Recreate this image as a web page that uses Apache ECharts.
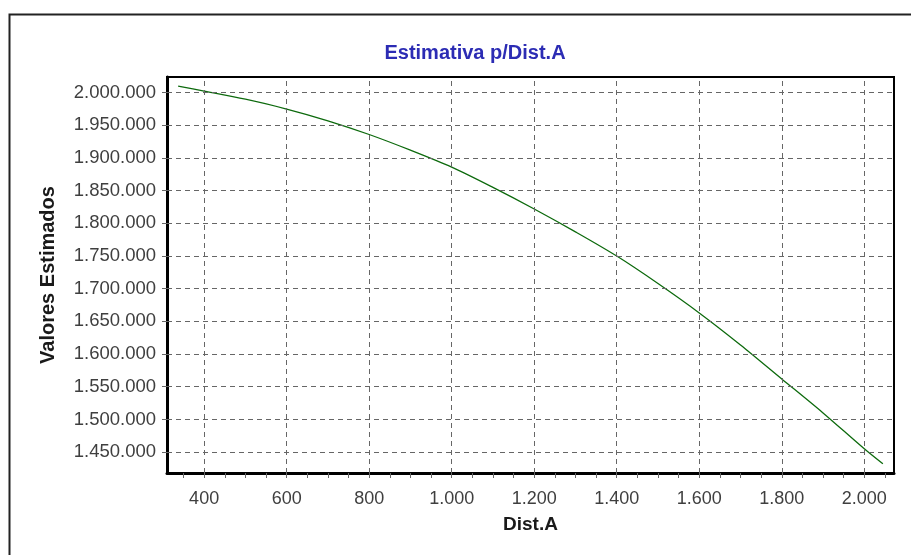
<!DOCTYPE html>
<html>
<head>
<meta charset="utf-8">
<script src="https://cdn.jsdelivr.net/npm/echarts@6/dist/echarts.min.js"></script>
<style>
  html, body { margin: 0; background: #fff; }
  #chart { width: 911px; height: 555px; }
</style>
</head>
<body>
<div id="chart"></div>
<script>
// estimated values
const distA = [337, 400, 500, 600, 700, 800, 900, 1000, 1100, 1200, 1300, 1400, 1500, 1600, 1700, 1800, 1900, 2000, 2045];
const valores = [2010000, 2002500, 1990000, 1975000, 1957000, 1936000, 1912000, 1886000, 1855000, 1822000, 1787000, 1750000, 1708000, 1663000, 1614000, 1562000, 1510000, 1455000, 1432000];

// tick labels
const xTicks = [400, 600, 800, 1000, 1200, 1400, 1600, 1800, 2000];
const xMinorTicks = [350, 400, 450, 500, 550, 600, 650, 700, 750, 800, 850, 900, 950, 1000, 1050, 1100, 1150, 1200, 1250, 1300, 1350, 1400, 1450, 1500, 1550, 1600, 1650, 1700, 1750, 1800, 1850, 1900, 1950, 2000, 2050];
const yTicks = [1450000, 1500000, 1550000, 1600000, 1650000, 1700000, 1750000, 1800000, 1850000, 1900000, 1950000, 2000000];

// 1.950.000 style
const fmt = v => String(Math.round(v)).replace(/\B(?=(\d{3})+(?!\d))/g, '.');

const chart = echarts.init(document.getElementById('chart'));

// dashed grid drawn as mark lines (axis min is not on the tick step)
const gridLines = yTicks.map(v => ({ yAxis: v })).concat(xTicks.map(v => ({ xAxis: v })));

const option = {
  backgroundColor: '#fff',
  animation: false,
  textStyle: { fontFamily: 'Liberation Sans' },
  title: {
    text: 'Estimativa p/Dist.A',
    left: 470,
    top: 38,
    textAlign: 'center',
    textStyle: { color: '#2c2cb4', fontSize: 20, fontWeight: 'bold', fontFamily: 'Liberation Sans' }
  },
  graphic: [
    {
      // outer frame, runs off right and bottom edges
      type: 'rect',
      left: 7, top: 12,
      shape: { width: 1000, height: 1000 },
      style: { fill: 'none', stroke: '#222', lineWidth: 2 },
      silent: true
    }
  ],
  grid: {
    left: 167, top: 77, right: 17, bottom: 82,
    show: true,
    backgroundColor: '#fff',
    borderColor: '#000',
    borderWidth: 2
  },
  xAxis: {
    type: 'value',
    min: 310,
    max: 2072,
    name: 'Dist.A',
    nameLocation: 'middle',
    nameGap: 42,
    nameTextStyle: { color: '#1a1a1a', fontSize: 19, fontWeight: 'bold' },
    axisLine: { show: true, onZero: false, lineStyle: { color: '#000', width: 3 } },
    axisTick: { show: true, length: 5, customValues: xMinorTicks, lineStyle: { color: '#666' } },
    axisLabel: { customValues: xTicks, formatter: fmt, color: '#3f3f3f', fontSize: 18, margin: 17 },
    splitLine: { show: false }
  },
  yAxis: {
    type: 'value',
    min: 1418000,
    max: 2024000,
    name: 'Valores Estimados',
    nameLocation: 'middle',
    nameGap: 109,
    nameTextStyle: { color: '#1a1a1a', fontSize: 20, fontWeight: 'bold' },
    axisLine: { show: true, onZero: false, lineStyle: { color: '#000', width: 3 } },
    axisTick: { show: true, length: 5, customValues: yTicks, lineStyle: { color: '#666' } },
    axisLabel: { customValues: yTicks, formatter: fmt, color: '#3f3f3f', fontSize: 18.5, margin: 11 },
    splitLine: { show: false }
  },
  series: [
    {
      type: 'line',
      data: distA.map((x, i) => [x, valores[i]]),
      smooth: 0.3,
      showSymbol: false,
      lineStyle: { color: '#0d6a0d', width: 1.3 },
      markLine: {
        silent: true,
        symbol: ['none', 'none'],
        label: { show: false },
        lineStyle: { color: '#666', type: [5, 4], width: 1 },
        data: gridLines
      },
      z: 3
    }
  ]
};

chart.setOption(option);
</script>
</body>
</html>
